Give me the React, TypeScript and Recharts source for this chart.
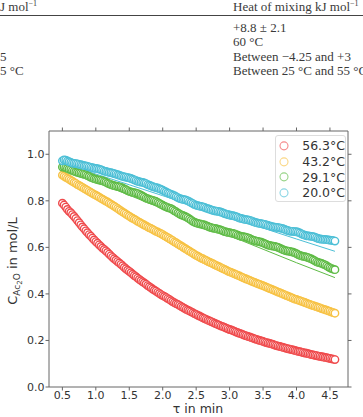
import React from 'react';
import { ComposedChart, Scatter, Line, XAxis, YAxis } from 'recharts';

// residence time of each sampled point, min
const tau = [
  0.5, 0.525, 0.55, 0.575, 0.6, 0.625, 0.65, 0.675, 0.7, 0.725, 0.75, 0.775, 0.8, 0.825, 0.85, 0.875, 0.9, 0.925, 0.95, 0.975,
  1.0, 1.025, 1.05, 1.075, 1.1, 1.125, 1.15, 1.175, 1.2, 1.225, 1.25, 1.275, 1.3, 1.325, 1.35, 1.375, 1.4, 1.425, 1.45, 1.475,
  1.5, 1.525, 1.55, 1.575, 1.6, 1.625, 1.65, 1.675, 1.7, 1.725, 1.75, 1.775, 1.8, 1.825, 1.85, 1.875, 1.9, 1.925, 1.95, 1.975,
  2.0, 2.025, 2.05, 2.075, 2.1, 2.125, 2.15, 2.175, 2.2, 2.225, 2.25, 2.275, 2.3, 2.325, 2.35, 2.375, 2.4, 2.425, 2.45, 2.475,
  2.5, 2.525, 2.55, 2.575, 2.6, 2.625, 2.65, 2.675, 2.7, 2.725, 2.75, 2.775, 2.8, 2.825, 2.85, 2.875, 2.9, 2.925, 2.95, 2.975,
  3.0, 3.025, 3.05, 3.075, 3.1, 3.125, 3.15, 3.175, 3.2, 3.225, 3.25, 3.275, 3.3, 3.325, 3.35, 3.375, 3.4, 3.425, 3.45, 3.475,
  3.5, 3.525, 3.55, 3.575, 3.6, 3.625, 3.65, 3.675, 3.7, 3.725, 3.75, 3.775, 3.8, 3.825, 3.85, 3.875, 3.9, 3.925, 3.95, 3.975,
  4.0, 4.025, 4.05, 4.075, 4.1, 4.125, 4.15, 4.175, 4.2, 4.225, 4.25, 4.275, 4.3, 4.325, 4.35, 4.375, 4.4, 4.425, 4.45, 4.475,
  4.5, 4.525, 4.55, 4.575
];

// measured anhydride concentration, mol/L
const c563 = [
  0.790, 0.782, 0.773, 0.763, 0.755, 0.749, 0.741, 0.733, 0.724, 0.715, 0.706, 0.697, 0.688, 0.680, 0.671, 0.663, 0.655, 0.648, 0.640, 0.632,
  0.625, 0.618, 0.611, 0.604, 0.597, 0.591, 0.585, 0.578, 0.571, 0.564, 0.557, 0.551, 0.545, 0.539, 0.533, 0.527, 0.521, 0.514, 0.508, 0.502,
  0.497, 0.491, 0.485, 0.479, 0.474, 0.468, 0.462, 0.457, 0.452, 0.447, 0.442, 0.436, 0.431, 0.426, 0.421, 0.416, 0.412, 0.407, 0.402, 0.397,
  0.393, 0.389, 0.385, 0.380, 0.376, 0.371, 0.366, 0.362, 0.358, 0.355, 0.351, 0.346, 0.342, 0.338, 0.334, 0.330, 0.327, 0.323, 0.319, 0.315,
  0.312, 0.308, 0.305, 0.301, 0.297, 0.294, 0.291, 0.287, 0.284, 0.281, 0.278, 0.274, 0.271, 0.268, 0.265, 0.262, 0.259, 0.256, 0.253, 0.250,
  0.247, 0.245, 0.242, 0.239, 0.236, 0.233, 0.230, 0.228, 0.225, 0.222, 0.220, 0.217, 0.215, 0.212, 0.210, 0.207, 0.205, 0.202, 0.200, 0.198,
  0.196, 0.193, 0.191, 0.189, 0.187, 0.185, 0.183, 0.180, 0.178, 0.176, 0.174, 0.172, 0.170, 0.168, 0.166, 0.164, 0.163, 0.161, 0.159, 0.157,
  0.155, 0.153, 0.152, 0.150, 0.148, 0.146, 0.145, 0.143, 0.141, 0.139, 0.138, 0.136, 0.135, 0.133, 0.132, 0.130, 0.129, 0.127, 0.126, 0.124,
  0.123, 0.121, 0.120, 0.118
];
const c432 = [
  0.910, 0.906, 0.901, 0.897, 0.893, 0.888, 0.884, 0.879, 0.875, 0.870, 0.866, 0.862, 0.858, 0.853, 0.849, 0.845, 0.841, 0.836, 0.832, 0.828,
  0.824, 0.820, 0.816, 0.811, 0.807, 0.803, 0.799, 0.795, 0.790, 0.786, 0.781, 0.777, 0.772, 0.767, 0.762, 0.757, 0.752, 0.748, 0.743, 0.738,
  0.734, 0.729, 0.725, 0.721, 0.717, 0.712, 0.708, 0.704, 0.700, 0.696, 0.692, 0.688, 0.684, 0.681, 0.677, 0.673, 0.669, 0.666, 0.662, 0.659,
  0.655, 0.650, 0.646, 0.642, 0.638, 0.633, 0.629, 0.624, 0.620, 0.615, 0.611, 0.606, 0.602, 0.597, 0.593, 0.588, 0.584, 0.579, 0.575, 0.570,
  0.566, 0.562, 0.558, 0.554, 0.551, 0.547, 0.544, 0.540, 0.537, 0.533, 0.530, 0.526, 0.523, 0.519, 0.516, 0.512, 0.509, 0.505, 0.502, 0.498,
  0.495, 0.492, 0.489, 0.486, 0.483, 0.480, 0.477, 0.473, 0.470, 0.467, 0.464, 0.461, 0.458, 0.455, 0.452, 0.449, 0.446, 0.443, 0.441, 0.438,
  0.435, 0.432, 0.429, 0.426, 0.423, 0.420, 0.417, 0.414, 0.411, 0.408, 0.405, 0.402, 0.399, 0.396, 0.393, 0.390, 0.387, 0.384, 0.381, 0.378,
  0.376, 0.373, 0.371, 0.368, 0.366, 0.363, 0.360, 0.357, 0.355, 0.352, 0.350, 0.347, 0.345, 0.342, 0.340, 0.337, 0.335, 0.332, 0.330, 0.327,
  0.325, 0.322, 0.320, 0.317
];
const c291 = [
  0.945, 0.946, 0.942, 0.939, 0.936, 0.933, 0.930, 0.927, 0.924, 0.922, 0.920, 0.918, 0.916, 0.914, 0.912, 0.908, 0.905, 0.901, 0.898, 0.895,
  0.893, 0.891, 0.889, 0.888, 0.886, 0.883, 0.880, 0.876, 0.873, 0.870, 0.867, 0.865, 0.863, 0.862, 0.860, 0.858, 0.855, 0.851, 0.848, 0.844,
  0.841, 0.838, 0.836, 0.835, 0.833, 0.831, 0.828, 0.824, 0.820, 0.816, 0.812, 0.809, 0.806, 0.804, 0.802, 0.800, 0.797, 0.793, 0.789, 0.785,
  0.781, 0.777, 0.774, 0.771, 0.769, 0.766, 0.762, 0.757, 0.753, 0.748, 0.744, 0.740, 0.737, 0.734, 0.731, 0.727, 0.722, 0.717, 0.712, 0.708,
  0.705, 0.703, 0.701, 0.700, 0.698, 0.696, 0.693, 0.690, 0.687, 0.685, 0.683, 0.682, 0.680, 0.678, 0.676, 0.674, 0.671, 0.668, 0.666, 0.664,
  0.663, 0.661, 0.660, 0.658, 0.655, 0.652, 0.649, 0.647, 0.646, 0.645, 0.643, 0.641, 0.638, 0.634, 0.631, 0.629, 0.627, 0.626, 0.624, 0.622,
  0.619, 0.616, 0.613, 0.610, 0.608, 0.606, 0.605, 0.604, 0.602, 0.600, 0.597, 0.593, 0.590, 0.587, 0.585, 0.584, 0.583, 0.581, 0.579, 0.576,
  0.573, 0.569, 0.566, 0.563, 0.561, 0.560, 0.558, 0.556, 0.553, 0.550, 0.546, 0.542, 0.538, 0.535, 0.533, 0.531, 0.528, 0.525, 0.521, 0.516,
  0.512, 0.509, 0.506, 0.504
];
const c200 = [
  0.972, 0.976, 0.975, 0.971, 0.968, 0.965, 0.962, 0.961, 0.960, 0.959, 0.957, 0.955, 0.953, 0.951, 0.950, 0.948, 0.946, 0.944, 0.942, 0.940,
  0.939, 0.938, 0.936, 0.934, 0.931, 0.928, 0.926, 0.924, 0.922, 0.921, 0.919, 0.917, 0.915, 0.912, 0.910, 0.907, 0.905, 0.903, 0.902, 0.900,
  0.898, 0.896, 0.893, 0.890, 0.887, 0.884, 0.882, 0.880, 0.879, 0.877, 0.874, 0.870, 0.867, 0.864, 0.861, 0.859, 0.857, 0.855, 0.852, 0.849,
  0.846, 0.842, 0.838, 0.834, 0.831, 0.828, 0.825, 0.822, 0.818, 0.814, 0.810, 0.808, 0.806, 0.805, 0.803, 0.800, 0.796, 0.792, 0.788, 0.784,
  0.781, 0.779, 0.777, 0.776, 0.774, 0.772, 0.769, 0.766, 0.764, 0.761, 0.759, 0.757, 0.756, 0.755, 0.753, 0.751, 0.748, 0.745, 0.743, 0.741,
  0.739, 0.737, 0.736, 0.734, 0.732, 0.729, 0.726, 0.724, 0.722, 0.720, 0.719, 0.718, 0.716, 0.714, 0.711, 0.708, 0.706, 0.704, 0.703, 0.702,
  0.700, 0.699, 0.697, 0.694, 0.692, 0.690, 0.688, 0.687, 0.686, 0.685, 0.684, 0.682, 0.680, 0.677, 0.674, 0.672, 0.670, 0.669, 0.669, 0.668,
  0.667, 0.665, 0.662, 0.658, 0.655, 0.652, 0.650, 0.649, 0.648, 0.647, 0.646, 0.644, 0.641, 0.638, 0.636, 0.635, 0.634, 0.634, 0.633, 0.632,
  0.631, 0.630, 0.629, 0.627
];

// model curves
const fitTau = [0.5, 1.0, 1.5, 2.0, 2.5, 3.0, 3.5, 4.0, 4.575];
const fit563a = [0.785, 0.620, 0.490, 0.386, 0.305, 0.241, 0.191, 0.151, 0.116];
const fit563b = [0.780, 0.612, 0.482, 0.379, 0.299, 0.236, 0.187, 0.148, 0.114];
const fit432a = [0.905, 0.815, 0.728, 0.645, 0.556, 0.485, 0.425, 0.368, 0.313];
const fit432b = [0.900, 0.808, 0.720, 0.636, 0.548, 0.479, 0.420, 0.365, 0.311];
const fit291 = [0.940, 0.882, 0.824, 0.766, 0.708, 0.650, 0.592, 0.534, 0.470];
const fit200 = [0.962, 0.915, 0.869, 0.822, 0.776, 0.729, 0.683, 0.636, 0.583];

const xTicks = [0.5, 1.0, 1.5, 2.0, 2.5, 3.0, 3.5, 4.0, 4.5];
const yTicks = [0, 0.2, 0.4, 0.6, 0.8, 1.0];

const series = [
  { name: '56.3°C', color: '#ef4a4c', points: c563, fits: [fit563a, fit563b] },
  { name: '43.2°C', color: '#f7c244', points: c432, fits: [fit432a, fit432b] },
  { name: '29.1°C', color: '#5fbb46', points: c291, fits: [fit291] },
  { name: '20.0°C', color: '#4cbfd6', points: c200, fits: [fit200] }
];

const toRows = (xs: number[], ys: number[]) => xs.map((t, i) => ({ t, c: ys[i] }));

const FONT = '"DejaVu Sans", sans-serif';
const INK = '#333';
const FRAME = '#666';
const X_DOMAIN = [0.3, 4.77];
const Y_DOMAIN = [0, 1.1];

const ring = (color: string) => (props: any) => (
  <circle cx={props.cx} cy={props.cy} r={3.7} fill="#fff" stroke={color} strokeWidth={1.4} />
);

function TableScrap() {
  const cell: React.CSSProperties = {
    position: 'absolute',
    fontFamily: '"Liberation Serif", serif',
    fontSize: 13,
    color: '#3a3a3a',
    whiteSpace: 'nowrap',
    lineHeight: '14px'
  };
  const sup = <sup style={{ fontSize: 8, verticalAlign: 'top', position: 'relative', top: -3 }}>−1</sup>;
  return (
    <>
      <div style={{ ...cell, left: 0, top: 0 }}>J mol{sup}</div>
      <div style={{ ...cell, left: 233, top: 0 }}>Heat of mixing kJ mol{sup}</div>
      <div style={{ position: 'absolute', left: 0, top: 14.5, width: 363, height: 1.5, background: '#444' }} />
      <div style={{ ...cell, left: 233, top: 21 }}>+8.8 ± 2.1</div>
      <div style={{ ...cell, left: 233, top: 35 }}>60 °C</div>
      <div style={{ ...cell, left: 0, top: 50 }}>5</div>
      <div style={{ ...cell, left: 233, top: 50 }}>Between −4.25 and +3</div>
      <div style={{ ...cell, left: 0, top: 64 }}>5 °C</div>
      <div style={{ ...cell, left: 233, top: 64 }}>Between 25 °C and 55 °C</div>
    </>
  );
}

function LegendBox() {
  return (
    <div
      style={{
        position: 'absolute',
        left: 275,
        top: 135,
        width: 71,
        height: 67,
        boxSizing: 'border-box',
        border: '1px solid #ddd',
        borderRadius: 3,
        background: 'rgba(255,255,255,0.85)',
        paddingTop: 2
      }}
    >
      {series.map((s) => (
        <div key={s.name} style={{ height: 15.7, display: 'flex', alignItems: 'center' }}>
          <svg width={28} height={15.7} style={{ display: 'block' }}>
            <circle cx={8} cy={7.85} r={4} fill="none" stroke={s.color} strokeOpacity={0.65} strokeWidth={1.1} />
          </svg>
          <span style={{ fontFamily: FONT, fontSize: 12.5, color: INK, lineHeight: '15px' }}>{s.name}</span>
        </div>
      ))}
    </div>
  );
}

export default function App() {
  return (
    <div style={{ position: 'absolute', left: 0, top: 0, width: 363, height: 417, background: '#fff', overflow: 'hidden' }}>
      <TableScrap />
      <div style={{ position: 'absolute', left: 0, top: 0 }}>
        <ComposedChart width={363} height={417} margin={{ top: 130, right: 14, bottom: 0, left: 0 }}>
          <XAxis
            xAxisId="b"
            dataKey="t"
            type="number"
            domain={X_DOMAIN}
            allowDataOverflow
            ticks={xTicks}
            tickFormatter={(v: number) => v.toFixed(1)}
            height={30}
            stroke={FRAME}
            tickSize={3.5}
            tickMargin={1}
            tick={{ fill: INK, fontSize: 11, fontFamily: FONT }}
            label={{
              content: () => (
                <text x={198} y={413} textAnchor="middle" fontFamily={FONT} fontSize={12.5} fill={INK}>
                  τ in min
                </text>
              )
            }}
          />
          {/* twin axes close the frame; the model curves are plotted on them */}
          <XAxis
            xAxisId="top"
            dataKey="t"
            orientation="top"
            type="number"
            domain={X_DOMAIN}
            allowDataOverflow
            ticks={xTicks}
            tickFormatter={() => ''}
            height={1}
            stroke={FRAME}
            tickSize={3.5}
          />
          <YAxis
            yAxisId="l"
            type="number"
            domain={Y_DOMAIN}
            allowDataOverflow
            ticks={yTicks}
            tickFormatter={(v: number) => v.toFixed(1)}
            width={49}
            stroke={FRAME}
            tickSize={3.5}
            tickMargin={1}
            tick={{ fill: INK, fontSize: 11, fontFamily: FONT }}
            label={{
              content: () => (
                <text transform="translate(17,261) rotate(-90)" textAnchor="middle" fontFamily={FONT} fontSize={13} fill={INK}>
                  <tspan>C</tspan>
                  <tspan fontSize={9} dy={3}>Ac</tspan>
                  <tspan fontSize={7} dy={1.5}>2</tspan>
                  <tspan fontSize={9} dy={-1.5}>O</tspan>
                  <tspan fontSize={13} dy={-3}> in mol/L</tspan>
                </text>
              )
            }}
          />
          <YAxis
            yAxisId="r"
            orientation="right"
            type="number"
            domain={Y_DOMAIN}
            allowDataOverflow
            ticks={yTicks}
            tickFormatter={() => ''}
            width={1}
            stroke={FRAME}
            tickSize={3.5}
          />
          {series.map((s) =>
            s.fits.map((f, k) => (
              <Line
                key={`${s.name}-fit-${k}`}
                xAxisId="top"
                yAxisId="r"
                data={toRows(fitTau, f)}
                dataKey="c"
                type="monotone"
                stroke={s.color}
                strokeWidth={1}
                dot={false}
                activeDot={false}
                legendType="none"
                isAnimationActive={false}
              />
            ))
          )}
          {series.map((s) => (
            <Scatter
              key={s.name}
              name={s.name}
              xAxisId="b"
              yAxisId="l"
              data={toRows(tau, s.points)}
              dataKey="c"
              shape={ring(s.color)}
              isAnimationActive={false}
            />
          ))}
        </ComposedChart>
      </div>
      <LegendBox />
    </div>
  );
}
